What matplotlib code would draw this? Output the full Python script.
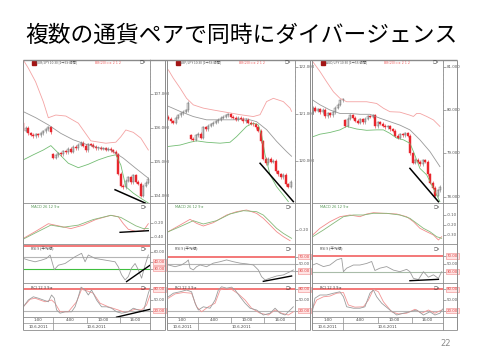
import numpy as np
import matplotlib
matplotlib.use("Agg")
import matplotlib.pyplot as plt
from matplotlib.patches import Rectangle
from matplotlib.lines import Line2D
from matplotlib.ticker import MultipleLocator

plt.rcParams['font.family'] = ['Noto Sans CJK JP', 'DejaVu Sans']

# ---------------- data ----------------
title = "複数の通貨ペアで同時にダイバージェンス"
pairs = ["EUR/JPY", "GBP/JPY", "AUD/JPY"]
time_labels = ["1:00", "4:00", "10:00", "16:00"]
date_labels = ["10.6.2011", "10.6.2011"]
page_no = "22"

# EUR/JPY
eur_open0 = 106.15
eur_close = [105.92, 106.00, 105.85, 105.80, 105.76, 105.82, 105.78, 105.84, 105.90, 105.96,
             106.02, 105.88, 105.12, 105.20, 105.26, 105.22, 105.32, 105.28, 105.38, 105.30,
             105.44, 105.40, 105.50, 105.56, 105.48, 105.35, 105.52, 105.50, 105.44, 105.40,
             105.42, 105.38, 105.40, 105.36, 105.38, 105.34, 105.30, 105.22, 104.65, 104.30,
             104.25, 104.45, 104.55, 104.40, 104.60, 104.42, 104.35, 104.00, 104.30, 104.38, 104.50]
eur_gap_idx = [12]
eur_gap_open = [105.22]
eur_up_x = [0, 2, 4.9, 8, 10, 13, 17, 22, 27, 33, 37, 39, 41, 44, 47, 50]
eur_up = [108.0, 107.76, 107.36, 106.77, 106.30, 106.38, 106.35, 106.14, 105.62, 105.55,
          105.58, 105.74, 105.94, 105.87, 105.70, 105.35]
eur_mid_x = [0, 5, 10, 15, 20, 25, 30, 35, 40, 45, 50]
eur_mid = [106.48, 106.30, 106.09, 105.84, 105.65, 105.52, 105.42, 105.35, 105.11, 104.81, 104.52]
eur_low_x = [0, 4, 8, 11, 14, 18, 22, 26, 30, 34, 37, 39, 41, 44, 47, 50]
eur_low = [105.06, 105.21, 105.35, 105.48, 105.26, 104.96, 104.83, 104.93, 105.06, 105.16,
           105.21, 104.91, 104.27, 104.08, 103.93, 103.79]
eur_trend_x = [36.7, 48.7]
eur_trend = [104.18, 103.79]
eur_ticks = [104, 105, 106, 107]
eur_macd_x = [0, 4.9, 10, 14, 19, 24, 29, 35, 38, 40, 42, 45, 48, 50]
eur_macd = [-0.42, -0.32, -0.21, -0.24, -0.28, -0.23, -0.15, -0.09, -0.11, -0.21, -0.29, -0.32, -0.31, -0.21]
eur_sig_x = [0, 4.9, 11, 16, 22, 28, 35, 39, 42, 45, 48, 50]
eur_sig = [-0.43, -0.34, -0.23, -0.26, -0.23, -0.15, -0.09, -0.12, -0.18, -0.24, -0.28, -0.28]
eur_macd_trend_x = [38.7, 50]
eur_macd_trend = [-0.333, -0.31]
eur_macd_ticks = [-0.2, -0.4]
eur_rsi_x = [0, 2, 4.7, 7.3, 9.3, 10.7, 11.3, 12.4, 14, 16.7, 18.7, 20.7, 23.3, 24.7, 26, 28.7,
             32.7, 36.7, 38, 39.3, 40.7, 42, 43.3, 44.7, 46, 47.3, 48.7, 50]
eur_rsi = [48, 45, 42, 45, 48, 54, 45, 28, 36, 39, 45, 51, 57, 42, 54, 48, 45, 42, 33, 19, 10,
           16, 31, 39, 28, 13, 36, 54]
eur_rsi_trend_x = [41.3, 50.7]
eur_rsi_trend = [7, 36]
eur_rci_x = [0, 2, 4, 6, 8, 10, 11.3, 12.4, 13.3, 14.7, 16.7, 19.3, 20.7, 22, 23.1, 24.7, 26,
             27.3, 29.3, 31.3, 33.3, 35.3, 37.3, 39.3, 42, 44, 46, 48, 50, 50.7]
eur_rci = [31, 50, 59, 55, 50, 45, 64, 55, 22, 13, 17, 17, 31, 59, 86, 78, 64, 78, 50, 31, 31,
           27, 17, 13, 17, 27, 22, 17, 69, 83]
eur_rci2_x = [0, 2.7, 4.7, 8.7, 11.3, 12.7, 14.7, 18, 21.3, 23.3, 25.3, 28, 30.7, 34, 38, 40.7,
              44.7, 47.3, 49.3, 50.7]
eur_rci2 = [31, 52, 55, 45, 50, 41, 17, 17, 45, 80, 76, 69, 41, 31, 22, 15, 24, 22, 36, 64]
eur_rci_trend_x = [37.3, 50.7]
eur_rci_trend = [2, 24]

# GBP/JPY
gbp_open0 = 120.95
gbp_close = [120.90, 120.85, 120.82, 120.92, 120.98, 121.02, 121.05, 121.08, 121.25, 120.48,
             120.45, 120.55, 120.58, 120.50, 120.72, 120.68, 120.75, 120.78, 120.82, 120.85,
             120.88, 120.92, 120.95, 120.98, 121.00, 120.95, 120.92, 120.88, 120.92, 120.90,
             120.85, 120.88, 120.82, 120.80, 120.78, 120.72, 120.65, 120.42, 120.05, 119.95,
             120.05, 119.98, 120.00, 119.78, 119.72, 119.65, 119.70, 119.50, 119.45, 119.55]
gbp_gap_idx = [9]
gbp_gap_open = [120.55]
gbp_up_x = [0, 2, 4.7, 7.3, 10, 14, 18, 23.3, 28.7, 34, 36.7, 38, 39.3, 42, 46, 48.7, 49.3]
gbp_up = [121.95, 121.77, 121.56, 121.34, 121.20, 121.13, 121.09, 121.04, 120.99, 120.95,
          120.99, 121.13, 121.27, 121.34, 121.27, 121.13, 121.06]
gbp_mid_x = [0, 4.7, 10, 15.3, 20.7, 26, 31.3, 35.3, 39.3, 43.3, 47.3, 49.3]
gbp_mid = [121.17, 121.06, 120.95, 120.88, 120.88, 120.88, 120.90, 120.84, 120.67, 120.42, 120.20, 120.10]
gbp_low_x = [0, 4.7, 8.7, 11.3, 15.3, 20.7, 24.7, 27.3, 31.3, 34, 36, 37.3, 38.7, 40.7, 43.3, 46, 48]
gbp_low = [120.31, 120.34, 120.40, 120.43, 120.40, 120.38, 120.40, 120.52, 120.74, 120.81,
           120.77, 120.56, 120.13, 119.70, 119.45, 119.27, 119.13]
gbp_trend_x = [36.7, 50]
gbp_trend = [119.95, 119.13]
gbp_ticks = [120, 121, 122]
gbp_macd_x = [0, 4.7, 8.7, 11.3, 14, 18, 23.3, 27.3, 31.3, 35.3, 38, 40.7, 43.3, 46, 48.7]
gbp_macd = [-0.224, -0.129, -0.047, -0.105, -0.143, -0.095, 0.014, 0.062, 0.086, 0.038,
            -0.033, -0.129, -0.224, -0.295, -0.353]
gbp_sig_x = [0, 4.7, 10, 14, 19.3, 24.7, 30, 35.3, 38, 40.7, 43.3, 46, 49.3]
gbp_sig = [-0.224, -0.152, -0.067, -0.114, -0.067, 0.029, 0.076, 0.062, 0.014, -0.081, -0.176, -0.248, -0.319]
gbp_macd_ticks = [-0.2]
gbp_rsi_x = [0, 2.7, 5.3, 7.3, 8, 8.7, 10, 11.3, 12.7, 15.3, 18, 20.7, 23.3, 26, 28.7, 31.3,
             34, 36, 37.3, 38.7, 40.7, 43.3, 46, 48.7, 50]
gbp_rsi = [47, 42, 47, 56, 61, 38, 33, 42, 47, 42, 52, 56, 61, 56, 52, 50, 47, 33, 14, 5, 10,
           16, 19, 28, 33]
gbp_rsi_trend_x = [38, 49.3]
gbp_rsi_trend = [1, 16]
gbp_rci_x = [0, 2, 4.7, 7.3, 9.3, 10.7, 12, 14, 16.7, 18.7, 20, 21.3, 23.3, 25.3, 26.7, 28.7,
             30.7, 32.7, 35.3, 38, 40.7, 42.7, 44.7, 46.7, 48.7, 50]
gbp_rci = [59, 69, 73, 78, 73, 41, 22, 31, 27, 50, 78, 87, 83, 86, 78, 59, 41, 27, 22, 8, 13,
           27, 13, 8, 22, 31]
gbp_rci2_x = [0, 2.7, 6, 9.3, 11.3, 13.3, 16, 18.7, 20.7, 22.7, 25.3, 28, 30.7, 33.3, 36.7, 40,
              42.7, 45.3, 48, 50]
gbp_rci2 = [55, 67, 71, 69, 31, 17, 31, 41, 78, 83, 80, 67, 50, 27, 13, 8, 22, 13, 8, 17]

# AUD/JPY
aud_open0 = 79.95
aud_close = [80.05, 79.98, 80.02, 79.95, 80.00, 79.86, 79.92, 79.88, 79.95, 80.05,
             80.12, 80.22, 80.25, 79.64, 79.80, 79.88, 79.82, 79.75, 79.70, 79.78,
             79.72, 79.80, 79.86, 79.84, 79.88, 79.62, 79.72, 79.68, 79.64, 79.60,
             79.62, 79.56, 79.52, 79.40, 79.36, 79.44, 79.42, 79.46, 79.40, 79.00,
             78.78, 78.85, 78.80, 78.74, 78.84, 78.80, 78.52, 78.32, 78.20, 78.02, 78.15, 78.22]
aud_gap_idx = [13]
aud_gap_open = [79.76]
aud_up_x = [0, 2.9, 5.6, 8.3, 10.9, 13.6, 17.6, 21.6, 25.6, 28.3, 30.9, 34.9, 38.9, 40.3,
            41.6, 42.9, 45.6, 48.3, 50.9]
aud_up = [81.12, 80.89, 80.65, 80.42, 80.27, 80.19, 80.19, 80.19, 80.15, 80.04, 79.96, 79.95,
          79.88, 79.85, 79.92, 79.92, 79.85, 79.77, 79.62]
aud_mid_x = [0, 2.9, 6.9, 10.9, 14.9, 18.9, 22.9, 26.9, 30.9, 34.9, 38.9, 42.9, 46.9, 50.9]
aud_mid = [80.23, 80.12, 80.00, 79.92, 79.92, 79.90, 79.90, 79.81, 79.73, 79.65, 79.54, 79.31, 79.04, 78.69]
aud_low_x = [0, 2.9, 6.9, 10.9, 13.6, 17.6, 21.6, 25.6, 28.3, 30.9, 33.6, 36.3, 38.9, 40.3,
             42.9, 45.6, 48.3, 50.9]
aud_low = [79.38, 79.44, 79.48, 79.54, 79.62, 79.56, 79.53, 79.54, 79.54, 79.46, 79.35, 79.31,
           79.23, 79.04, 78.65, 78.50, 78.19, 77.88]
aud_trend_x = [38.9, 50.3]
aud_trend = [78.65, 77.88]
aud_ticks = [78, 79, 80, 81]
aud_macd_x = [0, 2.9, 6.9, 10.9, 14.9, 18.9, 21.6, 24.3, 28.3, 33.6, 37.6, 40.3, 42.9, 45.6,
              48.3, 50.3, 51.6]
aud_macd = [-0.30, -0.233, -0.167, -0.117, -0.10, -0.117, -0.09, -0.077, -0.083, -0.09,
            -0.117, -0.167, -0.233, -0.267, -0.30, -0.35, -0.317]
aud_sig_x = [0, 4.3, 8.3, 12.3, 16.3, 20.3, 24.3, 29.6, 34.9, 38.9, 41.6, 44.3, 46.9, 49.6, 51.6]
aud_sig = [-0.317, -0.25, -0.183, -0.117, -0.10, -0.10, -0.083, -0.083, -0.10, -0.133,
           -0.183, -0.233, -0.267, -0.317, -0.333]
aud_macd_ticks = [-0.1, -0.2, -0.3]
aud_rsi_x = [0, 1.6, 4.3, 6.9, 9.6, 11.6, 12.3, 13.6, 16.3, 18.9, 21.6, 23.6, 24.9, 26.9, 29.6,
             32.3, 34.9, 37.6, 38.9, 40.3, 42.3, 44.3, 46.3, 48.3, 50.3, 51.6]
aud_rsi = [47, 51, 43, 47, 60, 64, 30, 39, 47, 47, 51, 56, 33, 39, 43, 34, 30, 36, 30, 13, 10,
           30, 16, 22, 13, 30]
aud_rsi_trend_x = [38.9, 50.3]
aud_rsi_trend = [7, 10.5]
aud_rci_x = [0, 0.9, 2.9, 5.6, 8.3, 10.9, 12.3, 13.6, 16.3, 18.9, 20.9, 22.9, 24.3, 25.6, 27.6,
             30.9, 33.6, 36.3, 38.9, 41.6, 44.3, 46.9, 48.9, 50.9, 52.3]
aud_rci = [22, 55, 64, 64, 69, 73, 59, 31, 27, 27, 31, 69, 78, 59, 41, 22, 8, 13, 17, 22, 8,
           17, 8, 13, 27]
aud_rci2_x = [0, 1.6, 4.3, 6.9, 9.6, 12.3, 14.3, 16.9, 20.3, 22.3, 24.3, 26.3, 28.3, 31.6,
              34.3, 37.6, 40.9, 43.6, 46.3, 48.9, 51.6]
aud_rci2 = [27, 50, 59, 61, 69, 71, 36, 30, 31, 50, 80, 73, 45, 17, 11, 13, 24, 13, 22, 13, 22]

# ---------------- drawing ----------------
W, H = 480, 360
fig = plt.figure(figsize=(4.8, 3.6), dpi=100)
fig.patch.set_facecolor('white')

GRID = '#8c8c8c'
PINK = '#f4a3a3'
RED = '#e8262d'
SMALL = ['DejaVu Sans']


def ax_px(x0, y0, x1, y1):
    return fig.add_axes([x0 / W, 1 - y1 / H, (x1 - x0) / W, (y1 - y0) / H])


def fline(xs, ys, color, lw):
    fig.add_artist(Line2D([x / W for x in xs], [1 - y / H for y in ys], color=color, lw=lw,
                          transform=fig.transFigure, solid_capstyle='butt'))


def ftext(x, y, s, **kw):
    fig.text(x / W, 1 - y / H, s, **kw)


def base_axis(ax, xlim, ylim, ticks, minor=None):
    ax.set_xlim(*xlim)
    ax.set_ylim(*ylim)
    for s in ['left', 'top', 'bottom']:
        ax.spines[s].set_visible(False)
    ax.spines['right'].set_color(GRID)
    ax.spines['right'].set_linewidth(0.6)
    ax.set_xticks([])
    ax.yaxis.tick_right()
    ax.set_yticks(ticks)
    ax.set_yticklabels([])
    if minor:
        ax.yaxis.set_minor_locator(MultipleLocator(minor))
    ax.tick_params(axis='y', which='major', length=2, width=0.4, color='#666')
    ax.tick_params(axis='y', which='minor', length=1, width=0.3, color='#888')
    ax.patch.set_alpha(0)


def rlabel(ax, v, s, boxed=False):
    kw = dict(transform=ax.get_yaxis_transform(), fontsize=2.8, va='center', ha='left',
              family=SMALL, clip_on=False)
    if boxed:
        ax.text(1.03, v, s, color='#e04040',
                bbox=dict(boxstyle='square,pad=0.2', fc='#ffe4e4', ec='#f08a8a', lw=0.4), **kw)
    else:
        ax.text(1.03, v, s, color='#555555', **kw)


def header_icons(x, y):
    ftext(x, y, "□x", fontsize=3, color='#333', va='center', ha='left', family=SMALL)


def draw_candles(ax, open0, closes, gap_idx, gap_open, ext):
    c = np.array(closes, dtype=float)
    o = np.r_[open0, c[:-1]]
    for gi, go in zip(gap_idx, gap_open):
        o[gi] = go
    x = np.arange(len(c))
    up = c >= o
    bot = np.minimum(o, c)
    top = np.maximum(o, c)
    hgt = np.maximum(top - bot, ext * 0.4)
    ax.vlines(x[up], bot[up] - ext, top[up] + ext, color='#777777', lw=0.4)
    ax.vlines(x[~up], bot[~up] - ext, top[~up] + ext, color=RED, lw=0.4)
    ax.bar(x[up], hgt[up], bottom=bot[up], width=0.75, color='#e4e4e4', edgecolor='#6a6a6a', lw=0.3)
    ax.bar(x[~up], hgt[~up], bottom=bot[~up], width=0.75, color=RED, edgecolor=RED, lw=0.3)


panels = [
    dict(L=23, R=150, E=165, xlim=(-0.13, 50.67), name=pairs[0],
         open0=eur_open0, close=eur_close, gi=eur_gap_idx, go=eur_gap_open,
         up=(eur_up_x, eur_up), mid=(eur_mid_x, eur_mid), low=(eur_low_x, eur_low),
         trend=(eur_trend_x, eur_trend), ylim=(103.79, 108.0), ticks=eur_ticks,
         macd=(eur_macd_x, eur_macd), sig=(eur_sig_x, eur_sig), mylim=(-0.50, 0.086),
         mticks=eur_macd_ticks, mtrend=(eur_macd_trend_x, eur_macd_trend),
         rsi=(eur_rsi_x, eur_rsi), rsiylim=(4.5, 73.5),
         rsilines=[(70, '#f26d6d', 1.3), (50, '#b5b5b5', 0.8), (30, '#3fbf3f', 0.8)],
         rsilabels=[(60, "60.00", False), (42, "40.00", True), (30, "30.00", True)],
         rsitrend=(eur_rsi_trend_x, eur_rsi_trend),
         rci=(eur_rci_x, eur_rci), rci2=(eur_rci2_x, eur_rci2),
         rcitrend=(eur_rci_trend_x, eur_rci_trend)),
    dict(L=167, R=295, E=310, xlim=(-0.53, 50.67), name=pairs[1],
         open0=gbp_open0, close=gbp_close, gi=gbp_gap_idx, go=gbp_gap_open,
         up=(gbp_up_x, gbp_up), mid=(gbp_mid_x, gbp_mid), low=(gbp_low_x, gbp_low),
         trend=(gbp_trend_x, gbp_trend), ylim=(119.10, 122.16), ticks=gbp_ticks,
         macd=(gbp_macd_x, gbp_macd), sig=(gbp_sig_x, gbp_sig), mylim=(-0.40, 0.186),
         mticks=gbp_macd_ticks, mtrend=None,
         rsi=(gbp_rsi_x, gbp_rsi), rsiylim=(-3.6, 105.6),
         rsilines=[(70, '#f26d6d', 1.3), (50, '#b5b5b5', 0.8), (30, '#b5b5b5', 0.8)],
         rsilabels=[(70, "70.00", True), (50, "50.00", False), (30, "30.00", True)],
         rsitrend=(gbp_rsi_trend_x, gbp_rsi_trend),
         rci=(gbp_rci_x, gbp_rci), rci2=(gbp_rci2_x, gbp_rci2), rcitrend=None),
    dict(L=312, R=443, E=457, xlim=(-0.27, 52.13), name=pairs[2],
         open0=aud_open0, close=aud_close, gi=aud_gap_idx, go=aud_gap_open,
         up=(aud_up_x, aud_up), mid=(aud_mid_x, aud_mid), low=(aud_low_x, aud_low),
         trend=(aud_trend_x, aud_trend), ylim=(77.85, 81.155), ticks=aud_ticks,
         macd=(aud_macd_x, aud_macd), sig=(aud_sig_x, aud_sig), mylim=(-0.39, 0.02),
         mticks=aud_macd_ticks, mtrend=None,
         rsi=(aud_rsi_x, aud_rsi), rsiylim=(1.15, 100.6),
         rsilines=[(70, '#f26d6d', 1.3), (30, '#a9bca9', 0.8)],
         rsilabels=[(70, "70.00", True), (50, "50.00", False), (30, "30.00", True)],
         rsitrend=(aud_rsi_trend_x, aud_rsi_trend),
         rci=(aud_rci_x, aud_rci), rci2=(aud_rci2_x, aud_rci2), rcitrend=None),
]

Y_TOP, Y_MAIN, Y_MACD, Y_RSI, Y_RCI, Y_D1, Y_BOT = 60, 203, 244, 283, 317, 323, 330

# title
ftext(241, 35, title, fontsize=16.4, ha='center', va='center', color='black')
fline([23, 457], [59.5, 59.5], '#8a8a8a', 1.0)

for p in panels:
    L, R, E = p['L'], p['R'], p['E']
    # ---- main chart ----
    ax = ax_px(L, Y_TOP, R, Y_MAIN)
    base_axis(ax, p['xlim'], p['ylim'], p['ticks'], minor=0.1)
    for t in p['ticks']:
        rlabel(ax, t, "%.3f" % t)
    ext = (p['ylim'][1] - p['ylim'][0]) / 143 * 1.5
    ax.plot(*p['up'], color=PINK, lw=0.6)
    ax.plot(*p['mid'], color='#9a9a9a', lw=0.6)
    ax.plot(*p['low'], color='#74bd74', lw=0.6)
    draw_candles(ax, p['open0'], p['close'], p['gi'], p['go'], ext)
    ax.plot(*p['trend'], color='black', lw=1.1, clip_on=False)
    # header
    fig.add_artist(Rectangle(((L + 9) / W, 1 - 64.5 / H), 3.5 / W, 3.5 / H, color='#a31515',
                             transform=fig.transFigure))
    ftext(L + 13.5, 62.8, "%s 10:30 [1→5S-時間]" % p['name'], fontsize=2.3,
          color='#555', va='center', ha='left')
    ftext(L + 72, 62.8, "BB(20)=± 2 1 2", fontsize=2.3, color='#f06060', va='center',
          ha='left', family=SMALL)
    header_icons(R - 10, 62.8)

    # ---- MACD ----
    ax = ax_px(L, Y_MAIN, R, Y_MACD)
    base_axis(ax, p['xlim'], p['mylim'], p['mticks'])
    for t in p['mticks']:
        rlabel(ax, t, "%.2f" % t)
    ax.plot(*p['macd'], color='#f28b8b', lw=0.6)
    ax.plot(*p['sig'], color='#86b97a', lw=0.6)
    if p['mtrend'] is not None:
        ax.plot(*p['mtrend'], color='black', lw=1.0)
    ftext(L + 8, Y_MAIN + 4.5, "MACD 26 12 9 ▸", fontsize=2.6, color='#5a9a5a', va='center',
          ha='left', family=SMALL)
    header_icons(R - 9, Y_MAIN + 4.5)

    # ---- RSI ----
    ax = ax_px(L, Y_MACD, R, Y_RSI)
    base_axis(ax, p['xlim'], p['rsiylim'], [v for v, _, _ in p['rsilabels']])
    for v, col, lw in p['rsilines']:
        ax.axhline(v, color=col, lw=lw)
    for v, s, b in p['rsilabels']:
        rlabel(ax, v, s, b)
    ax.plot(*p['rsi'], color='#9c9c9c', lw=0.6)
    ax.plot(*p['rsitrend'], color='black', lw=1.0)
    ftext(L + 8, Y_MACD + 5, "RSI 9 (平均線)", fontsize=2.6, color='#444', va='center', ha='left')
    header_icons(R - 9, Y_MACD + 5)

    # ---- RCI ----
    ax = ax_px(L, Y_RSI, R, Y_RCI)
    base_axis(ax, p['xlim'], (2.4, 97.6), [20, 50, 80])
    ax.axhline(80, color='#f26d6d', lw=1.3)
    ax.axhline(20, color='#b5b5b5', lw=0.8)
    rlabel(ax, 80, "80.00", True)
    rlabel(ax, 50, "50.00")
    rlabel(ax, 20, "20.00", True)
    ax.plot(*p['rci2'], color='#f29494', lw=0.6)
    ax.plot(*p['rci'], color='#9c9c9c', lw=0.6)
    if p['rcitrend'] is not None:
        ax.plot(*p['rcitrend'], color='black', lw=1.0, clip_on=False)
    ftext(L + 8, Y_RSI + 5, "RCI 12 3 9 ▸", fontsize=2.6, color='#444', va='center', ha='left',
          family=SMALL)
    header_icons(R - 9, Y_RSI + 5)

    # ---- date rows ----
    w = R - L
    seps1 = [0.24, 0.5, 0.76]
    for f in seps1:
        fline([L + f * w] * 2, [Y_RCI, Y_D1], GRID, 0.5)
    fline([L + 0.24 * w] * 2, [Y_D1, Y_BOT], GRID, 0.5)
    for f, s in zip([0.12, 0.37, 0.63, 0.88], time_labels):
        ftext(L + f * w, (Y_RCI + Y_D1) / 2, s, fontsize=2.8, ha='center', va='center',
              color='#444', family=SMALL)
    for f, s in zip([0.12, 0.58], date_labels):
        ftext(L + f * w, (Y_D1 + Y_BOT) / 2, s, fontsize=2.8, ha='center', va='center',
              color='#444', family=SMALL)

    # ---- frame / separators ----
    fline([L, L], [Y_TOP, Y_BOT], GRID, 0.7)
    fline([E, E], [Y_TOP, Y_BOT], GRID, 0.7)
    fline([R, R], [Y_RCI, Y_BOT], GRID, 0.6)
    for y in [Y_MAIN, Y_MACD, Y_RSI, Y_RCI, Y_BOT]:
        fline([L, E], [y, y], GRID, 0.6)
    fline([L, R], [Y_D1, Y_D1], GRID, 0.5)

ftext(446, 343, page_no, fontsize=6, color='#8a8a8a', ha='center', va='center',
      family=SMALL)

fig.savefig("out.png", dpi=100, facecolor='white')
